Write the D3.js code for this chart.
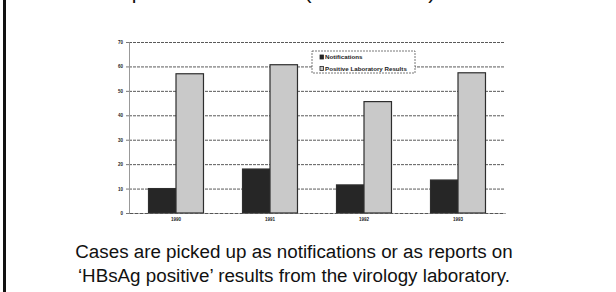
<!DOCTYPE html>
<html>
<head>
<meta charset="utf-8">
<script src="https://cdn.jsdelivr.net/npm/d3@7"></script>
<style>
  body { margin: 0; background: #fff; }
  svg { display: block; }
</style>
</head>
<body>
<svg width="616" height="292"></svg>
<script>
  // Chart data
  const years = ['1990', '1991', '1992', '1993'];
  const seriesNames = ['Notifications', 'Positive Laboratory Results'];
  const notifications = [10, 18, 11.5, 13.5];
  const labResults = [57, 60.7, 45.6, 57.4];
  const yTicks = [0, 10, 20, 30, 40, 50, 60, 70];
  const captionLines = [
    'Cases are picked up as notifications or as reports on',
    '\u2018HBsAg positive\u2019 results from the virology laboratory.'
  ];

  const svg = d3.select('svg');
  const colors = ['#262626', '#c9c9c9'];
  const font = 'Liberation Sans, Arial, sans-serif';

  // left border of the slide
  svg.append('line')
    .attr('x1', 4.5).attr('x2', 4.5)
    .attr('y1', 0).attr('y2', 292)
    .attr('stroke', '#111').attr('stroke-width', 3);

  // slide title, mostly above the top edge (only the bottom of the glyphs shows)
  svg.append('text')
    .attr('x', 270).attr('y', -1)
    .attr('text-anchor', 'middle')
    .style('font-family', font)
    .style('font-size', '21px')
    .attr('fill', '#111')
    .text('Hepatitis B in Ireland (1990 \u2013 1993)');

  // Scales
  const margin = { left: 129, right: 505, top: 42, bottom: 213 };
  const x0 = d3.scaleBand().domain(years).range([margin.left, margin.right]).padding(0);
  const x1 = d3.scaleBand().domain(seriesNames).range([0, x0.bandwidth()]).paddingOuter(0.71).paddingInner(0);
  const y = d3.scaleLinear().domain([0, 70]).range([margin.bottom, margin.top]);

  // gridlines
  svg.append('g')
    .selectAll('line')
    .data(yTicks.filter(d => d > 0))
    .join('line')
      .attr('x1', margin.left).attr('x2', margin.right)
      .attr('y1', d => y(d) + 0.5).attr('y2', d => y(d) + 0.5)
      .attr('stroke', '#5a5a5a')
      .attr('stroke-width', 1)
      .attr('stroke-dasharray', '3,1');

  // y axis
  const yAxisG = svg.append('g')
    .attr('transform', `translate(${margin.left},0)`)
    .call(d3.axisLeft(y).tickValues(yTicks).tickSize(3).tickFormat(d3.format('d')));
  yAxisG.select('.domain').attr('stroke', '#999');
  yAxisG.selectAll('.tick line').attr('stroke', '#777');
  yAxisG.selectAll('text')
    .style('font-family', font)
    .style('font-size', '4.5px')
    .style('font-weight', 'bold')
    .attr('fill', '#222');

  // bars
  const groups = svg.append('g')
    .selectAll('g')
    .data(years.map((yr, i) => ({ yr, values: [notifications[i], labResults[i]] })))
    .join('g')
      .attr('transform', d => `translate(${x0(d.yr)},0)`);

  groups.selectAll('rect')
    .data(d => d.values.map((v, j) => ({ key: seriesNames[j], v, j })))
    .join('rect')
      .attr('x', d => x1(d.key))
      .attr('y', d => y(d.v))
      .attr('width', x1.bandwidth())
      .attr('height', d => y(0) - y(d.v))
      .attr('fill', d => colors[d.j])
      .attr('stroke', '#2e2e2e')
      .attr('stroke-width', 1.2);

  // x axis
  const xAxisG = svg.append('g')
    .attr('transform', `translate(0,${margin.bottom})`)
    .call(d3.axisBottom(x0).tickSize(0).tickPadding(5));
  xAxisG.select('.domain').attr('stroke', '#555').attr('stroke-dasharray', '4,1');
  xAxisG.selectAll('text')
    .style('font-family', font)
    .style('font-size', '4.5px')
    .style('font-weight', 'bold')
    .attr('fill', '#222');

  // legend
  const legendG = svg.append('g').attr('transform', 'translate(312,51)');
  legendG.append('rect')
    .attr('width', 103).attr('height', 22)
    .attr('fill', '#fff')
    .attr('stroke', '#555')
    .attr('stroke-width', 0.8)
    .attr('stroke-dasharray', '2,1');
  const items = legendG.selectAll('.item')
    .data(seriesNames)
    .join('g')
      .attr('class', 'item')
      .attr('transform', (d, i) => `translate(8,${3.5 + i * 11.5})`);
  items.append('rect')
    .attr('width', 3.5).attr('height', 4)
    .attr('y', 0.5)
    .attr('fill', (d, i) => colors[i])
    .attr('stroke', '#222').attr('stroke-width', 0.8);
  items.append('text')
    .attr('x', 5).attr('y', 4.5)
    .style('font-family', font)
    .style('font-size', '6.2px')
    .style('font-weight', 'bold')
    .attr('fill', '#222')
    .text(d => d);

  // caption
  svg.append('g')
    .selectAll('text')
    .data(captionLines)
    .join('text')
      .attr('x', 294)
      .attr('y', (d, i) => 258 + i * 24)
      .attr('text-anchor', 'middle')
      .style('font-family', font)
      .style('font-size', '18.8px')
      .attr('fill', '#111')
      .text(d => d);
</script>
</body>
</html>
